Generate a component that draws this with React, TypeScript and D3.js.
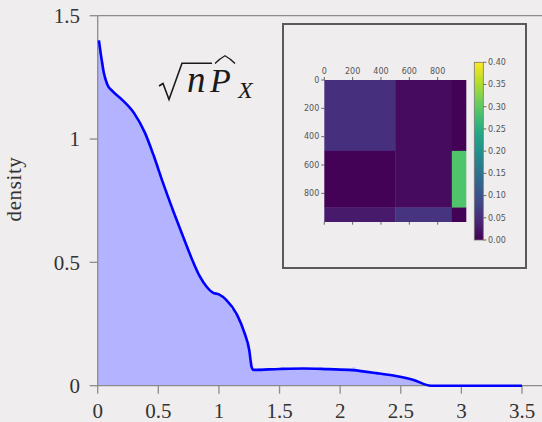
import React from 'react'
import { scaleLinear, scaleSequential, interpolateViridis, line, area, curveMonotoneX, curveStepAfter, range } from 'd3'

// density curve (x, density)
const curveX = [0.01, 0.03, 0.05, 0.08, 0.12, 0.2, 0.3, 0.39, 0.46, 0.54, 0.62, 0.7, 0.775, 0.84, 0.9, 0.95, 1.0, 1.06, 1.15, 1.21, 1.25, 1.27, 1.285, 1.5, 1.7, 1.9, 2.1, 2.3, 2.45, 2.6, 2.75, 3.5]
const curveY = [1.4, 1.33, 1.27, 1.22, 1.195, 1.16, 1.105, 1.025, 0.935, 0.82, 0.712, 0.61, 0.516, 0.445, 0.4, 0.377, 0.37, 0.348, 0.287, 0.215, 0.145, 0.075, 0.064, 0.068, 0.07, 0.067, 0.063, 0.051, 0.04, 0.024, 0.0, 0.0]

// histogram, bins of 0.025 starting at 0
const binWidth = 0.025
const histDensity = [
  1.38, 1.31, 1.25, 1.21, 1.2, 1.185, 1.175, 1.165, 1.155, 1.14,
  1.13, 1.11, 1.095, 1.075, 1.055, 1.03, 1.0, 0.965, 0.93, 0.9,
  0.86, 0.825, 0.79, 0.755, 0.72, 0.69, 0.66, 0.625, 0.595, 0.565,
  0.53, 0.5, 0.475, 0.45, 0.43, 0.41, 0.395, 0.385, 0.375, 0.372,
  0.365, 0.355, 0.345, 0.33, 0.31, 0.29, 0.27, 0.245, 0.215, 0.17,
  0.1, 0.065, 0.068, 0.072, 0.069, 0.071, 0.068, 0.07, 0.072, 0.069,
  0.07, 0.071, 0.069, 0.07, 0.068, 0.07, 0.069, 0.07, 0.068, 0.069,
  0.067, 0.072, 0.071, 0.068, 0.066, 0.067, 0.066, 0.065, 0.066, 0.064,
  0.064, 0.063, 0.062, 0.07, 0.074, 0.06, 0.058, 0.057, 0.055, 0.054,
  0.053, 0.053, 0.05, 0.05, 0.045, 0.044, 0.042, 0.04, 0.038, 0.036,
  0.033, 0.03, 0.027, 0.025, 0.022, 0.019, 0.015, 0.01, 0.006, 0.002,
]

const xTicks = [0, 0.5, 1, 1.5, 2, 2.5, 3, 3.5]
const yTicks = [0, 0.5, 1, 1.5]

// inset block matrix
const blockEdges = [0, 500, 900, 1000]
const blockValues = [
  [0.055, 0.012, 0.002],
  [0.003, 0.012, 0.29],
  [0.028, 0.06, 0.003],
]
const matTicks = [0, 200, 400, 600, 800]
const cbarTicks = [0, 0.05, 0.1, 0.15, 0.2, 0.25, 0.3, 0.35, 0.4]

const W = 542
const H = 422
const bg = '#efedee'
const axisColor = '#8c8c8c'
const textColor = '#333'
const serif = '"Liberation Serif", "DejaVu Serif", serif'
const sans = '"DejaVu Sans", sans-serif'

const App = () => {
  const x = scaleLinear().domain([0, 3.5]).range([97.7, 522])
  const y = scaleLinear().domain([0, 1.5]).range([385.7, 15.7])

  const densityLine = line<number>()
    .x((d, i) => x(curveX[i]))
    .y(d => y(d))
    .curve(curveMonotoneX)

  // closing point so the last bin gets its full width
  const histSteps = histDensity.concat([histDensity[histDensity.length - 1]])
  const histArea = area<number>()
    .x((d, i) => x(i * binWidth))
    .y0(y(0))
    .y1(d => y(d))
    .curve(curveStepAfter)

  const hx = scaleLinear().domain([0, 1000]).range([324.3, 466])
  const hy = scaleLinear().domain([0, 1000]).range([80, 221.7])
  const color = scaleSequential(interpolateViridis).domain([0, 0.4])
  const cy = scaleLinear().domain([0, 0.4]).range([240, 62.3])
  const stops = range(0, 1.0001, 0.1)

  return (
    <svg width={W} height={H} style={{ position: 'fixed', left: 0, top: 0 }}>
      <defs>
        <linearGradient id="viridis" x1="0" y1="1" x2="0" y2="0">
          {stops.map(t => (
            <stop key={t} offset={t} stopColor={interpolateViridis(t)} />
          ))}
        </linearGradient>
      </defs>
      <rect width={W} height={H} fill={bg} />

      {/* histogram */}
      <path d={histArea(histSteps) || ''} fill="#b3b3ff" />

      {/* axes frame */}
      <g stroke={axisColor} strokeWidth={1.3} fill="none">
        <line x1={x(0)} x2={W} y1={y(0)} y2={y(0)} />
        <line x1={x(0)} x2={x(0)} y1={y(1.5)} y2={y(0)} />
        <line x1={x(0)} x2={W} y1={y(1.5)} y2={y(1.5)} />
        {xTicks.map(t => (
          <line key={t} x1={x(t)} x2={x(t)} y1={y(0)} y2={y(0) + 8} />
        ))}
        {yTicks.map(t => (
          <line key={t} x1={x(0) - 8} x2={x(0)} y1={y(t)} y2={y(t)} />
        ))}
      </g>

      {/* density curve */}
      <path d={densityLine(curveY) || ''} fill="none" stroke="#0000ff" strokeWidth={2.6} strokeLinejoin="round" />

      {/* tick labels */}
      <g fill={textColor} style={{ fontFamily: serif }} fontSize={21}>
        {xTicks.map(t => (
          <text key={t} x={x(t)} y={418} textAnchor="middle">{String(t)}</text>
        ))}
        {yTicks.map(t => (
          <text key={t} x={80} y={y(t)} dy="0.35em" textAnchor="end">{String(t)}</text>
        ))}
        <text transform="translate(21,189) rotate(-90)" textAnchor="middle" fontSize={21} letterSpacing={0.6}>density</text>
      </g>

      {/* formula label */}
      <g fill="#1a1a1a" stroke="none" style={{ fontFamily: serif, fontStyle: 'italic' }}>
        <path d="M159,86 L163,83.5 L169,99.5 L182,63.3 L212,63.3" fill="none" stroke="#1a1a1a" strokeWidth={1.6} strokeLinejoin="miter" />
        <text x={187} y={91.7} fontSize={37}>n</text>
        <text x={210} y={91.7} fontSize={34}>P</text>
        <path d="M215,63.5 Q220,58.5 225,55.8 Q230,58.5 235,63.5" fill="none" stroke="#1a1a1a" strokeWidth={1.3} />
        <text x={238} y={98.3} fontSize={24}>X</text>
      </g>

      {/* inset */}
      <rect x={283} y={24} width={243} height={244} fill={bg} stroke="#5a5a5a" strokeWidth={2} />
      <g>
        {blockValues.map((row, i) =>
          row.map((v, j) => (
            <rect key={i + '-' + j}
              x={hx(blockEdges[j])}
              y={hy(blockEdges[i])}
              width={hx(blockEdges[j + 1]) - hx(blockEdges[j]) + 0.3}
              height={hy(blockEdges[i + 1]) - hy(blockEdges[i]) + 0.3}
              fill={color(v)} />
          ))
        )}
      </g>
      <g stroke="#444" strokeWidth={0.8}>
        {matTicks.map(t => (
          <g key={t}>
            <line x1={hx(t)} x2={hx(t)} y1={hy(0)} y2={hy(0) - 3} />
            <line x1={hx(t)} x2={hx(t)} y1={hy(1000)} y2={hy(1000) + 3} />
            <line x1={hx(0)} x2={hx(0) - 3} y1={hy(t)} y2={hy(t)} />
          </g>
        ))}
        {cbarTicks.map(t => (
          <line key={t} x1={483.3} x2={486.3} y1={cy(t)} y2={cy(t)} />
        ))}
      </g>
      <g fill="#555" style={{ fontFamily: sans }} fontSize={8}>
        {matTicks.map(t => (
          <text key={'t' + t} x={hx(t)} y={hy(0) - 6} textAnchor="middle">{t}</text>
        ))}
        {matTicks.map(t => (
          <text key={'l' + t} x={hx(0) - 5} y={hy(t)} dy="0.35em" textAnchor="end">{t}</text>
        ))}
        {cbarTicks.map(t => (
          <text key={'c' + t} x={488} y={cy(t)} dy="0.35em">{t.toFixed(2)}</text>
        ))}
      </g>
      <rect x={474.3} y={cy(0.4)} width={9} height={cy(0) - cy(0.4)} fill="url(#viridis)" stroke="#777" strokeWidth={0.8} />
    </svg>
  )
}

export default App
